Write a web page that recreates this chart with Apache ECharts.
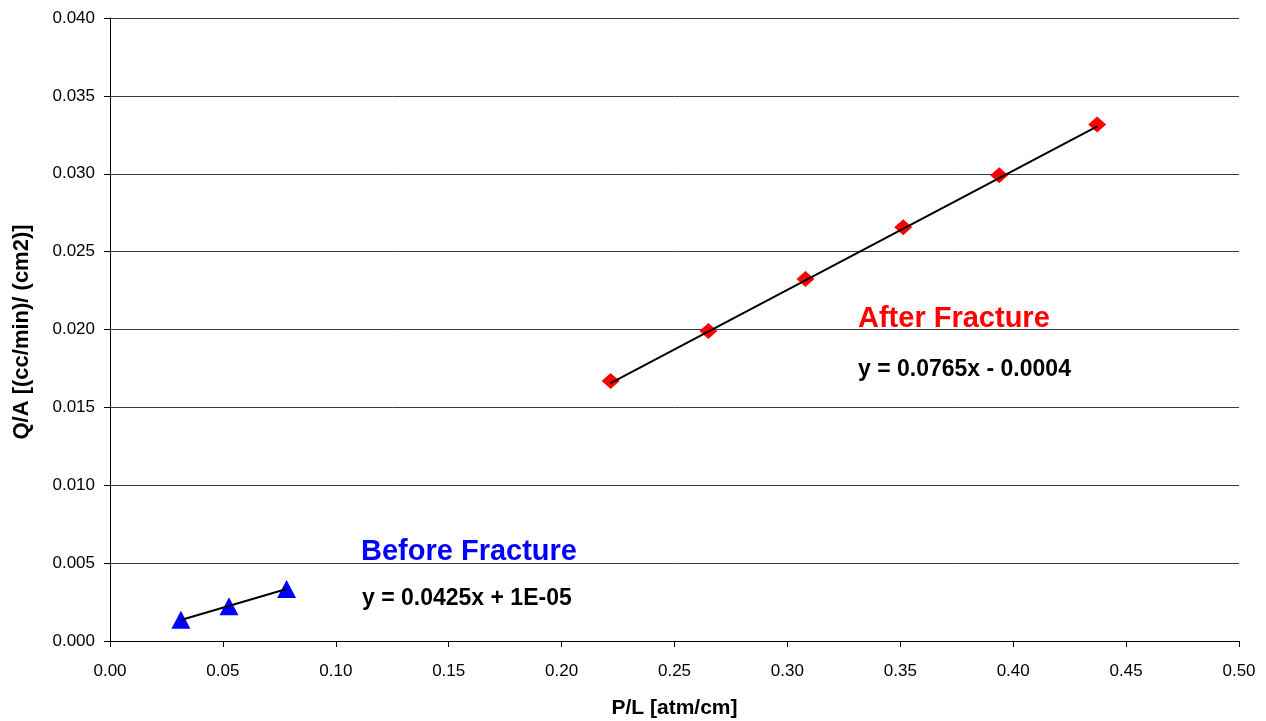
<!DOCTYPE html>
<html>
<head>
<meta charset="utf-8">
<script src="https://cdn.jsdelivr.net/npm/echarts@6/dist/echarts.min.js"></script>
<style>
  html, body { margin: 0; padding: 0; background: #fff; }
  #chart { width: 1266px; height: 721px; }
</style>
</head>
<body>
<div id="chart"></div>
<script>
// Flow per area vs pressure gradient, before and after fracturing
const beforePL = [0.0314, 0.0527, 0.0782];
const beforeQA = [0.00136, 0.00223, 0.00334];
const afterPL = [0.2217, 0.2650, 0.3080, 0.3513, 0.3938, 0.4372];
const afterQA = [0.0167, 0.0199, 0.02324, 0.02657, 0.0299, 0.03317];

// Linear trendline coefficients [slope, intercept]
const beforeFit = [0.0425, 0.00001];
const afterFit = [0.0765, -0.0004];

const beforeLabel = 'Before Fracture';
const afterLabel = 'After Fracture';
const beforeEq = 'y = 0.0425x + 1E-05';
const afterEq = 'y = 0.0765x - 0.0004';

const xTitle = 'P/L [atm/cm]';
const yTitle = 'Q/A [(cc/min)/ (cm2)]';

function pairs(xs, ys) { return xs.map((x, i) => [x, ys[i]]); }
function fitLine(xs, fit) {
  const x0 = Math.min(...xs), x1 = Math.max(...xs);
  return [[x0, fit[0] * x0 + fit[1]], [x1, fit[0] * x1 + fit[1]]];
}

const FONT = '"Liberation Sans", Arial, sans-serif';
const chart = echarts.init(document.getElementById('chart'));
chart.setOption({
  animation: false,
  backgroundColor: '#ffffff',
  grid: { left: 110, right: 27, top: 18, bottom: 80, containLabel: false,
    outerBoundsMode: 'none' },
  xAxis: {
    type: 'value', min: 0, max: 0.5, interval: 0.05,
    name: xTitle, nameLocation: 'middle', nameGap: 57,
    nameTextStyle: { fontFamily: FONT, fontWeight: 'bold', fontSize: 21, color: '#000' },
    axisLine: { show: true, lineStyle: { color: '#000', width: 1 } },
    axisTick: { show: true, inside: false, length: 6, lineStyle: { color: '#000' } },
    axisLabel: { fontFamily: FONT, fontSize: 17, color: '#000', margin: 22,
      formatter: v => v.toFixed(2) },
    splitLine: { show: false }
  },
  yAxis: {
    type: 'value', min: 0, max: 0.04, interval: 0.005,
    axisLine: { show: true, lineStyle: { color: '#000', width: 1 } },
    axisTick: { show: true, inside: false, length: 6, lineStyle: { color: '#000' } },
    axisLabel: { fontFamily: FONT, fontSize: 17, color: '#000', margin: 15,
      formatter: v => v.toFixed(3) },
    splitLine: { show: true, lineStyle: { color: '#3a3a3a', width: 1 } }
  },
  series: [
    {
      name: beforeLabel, type: 'scatter', data: pairs(beforePL, beforeQA),
      symbol: 'triangle', symbolSize: [19, 18],
      itemStyle: { color: '#0000ff', opacity: 1 }, z: 3
    },
    {
      name: afterLabel, type: 'scatter', data: pairs(afterPL, afterQA),
      symbol: 'diamond', symbolSize: [18, 16],
      itemStyle: { color: '#ff0000', opacity: 1 }, z: 3
    },
    {
      name: 'before trend', type: 'line', data: fitLine(beforePL, beforeFit),
      symbol: 'none', lineStyle: { color: '#000', width: 2 }, z: 4
    },
    {
      name: 'after trend', type: 'line', data: fitLine(afterPL, afterFit),
      symbol: 'none', lineStyle: { color: '#000', width: 2 }, z: 4
    }
  ],
  graphic: [
    { type: 'text', x: 22, y: 332, rotation: Math.PI / 2,
      style: { text: yTitle, fill: '#000', font: 'bold 22px ' + FONT,
        textAlign: 'center', textVerticalAlign: 'middle' } },
    { type: 'text', left: 858, top: 304, style: { text: afterLabel, fill: '#ff0000',
      font: 'bold 29px ' + FONT } },
    { type: 'text', left: 858, top: 358, style: { text: afterEq, fill: '#000',
      font: 'bold 23px ' + FONT } },
    { type: 'text', left: 361, top: 537, style: { text: beforeLabel, fill: '#0000ff',
      font: 'bold 29px ' + FONT } },
    { type: 'text', left: 362, top: 587, style: { text: beforeEq, fill: '#000',
      font: 'bold 23px ' + FONT } }
  ]
});
</script>
</body>
</html>
